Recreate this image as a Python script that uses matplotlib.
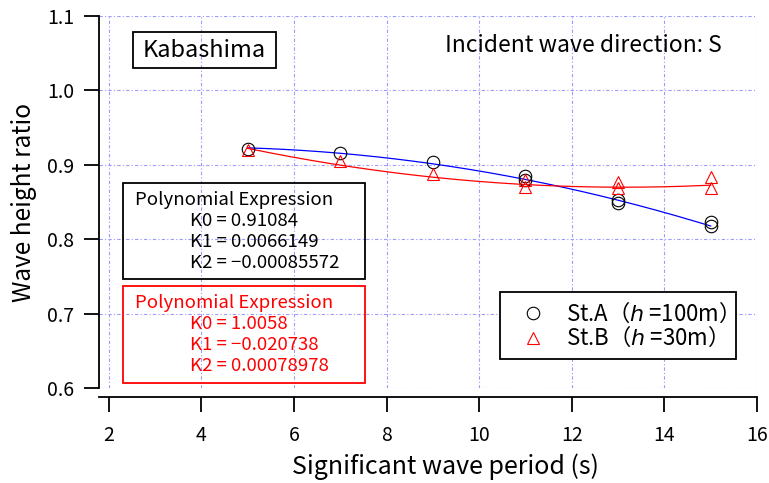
import numpy as np
import matplotlib
matplotlib.use("Agg")
from matplotlib import pyplot as plt
from matplotlib.patches import Rectangle

plt.rcParams['font.family'] = ['Noto Sans CJK JP', 'DejaVu Sans']
plt.rcParams['mathtext.fontset'] = 'dejavusans'

# measured wave height ratios
period_a = [5, 7, 9, 11, 11, 13, 13, 15, 15]
ratio_a = [0.921, 0.916, 0.904, 0.885, 0.880, 0.853, 0.848, 0.823, 0.817]
period_b = [5, 7, 9, 11, 11, 13, 13, 15, 15]
ratio_b = [0.920, 0.905, 0.887, 0.879, 0.870, 0.876, 0.868, 0.883, 0.868]

# quadratic fits  K0 + K1*T + K2*T^2
coef_a = [0.91084, 0.0066149, -0.00085572]
coef_b = [1.0058, -0.020738, 0.00078978]
coef_a_txt = ["0.91084", "0.0066149", "\u22120.00085572"]
coef_b_txt = ["1.0058", "\u22120.020738", "0.00078978"]

x_ticks = [2, 4, 6, 8, 10, 12, 14, 16]
y_ticks = [0.6, 0.7, 0.8, 0.9, 1.0, 1.1]

W, H = 769, 483


def fpos(x, y):
    # pixel position -> figure fraction
    return x / W, 1 - y / H


fig = plt.figure(figsize=(W / 100, H / 100), dpi=100)
ax = fig.add_axes([99 / W, 1 - 388 / H, 658 / W, 372.3 / H])

t_fit = np.linspace(min(period_a), max(period_a), 201)
ax.plot(t_fit, np.polyval(coef_a[::-1], t_fit), color='#0000ff', lw=0.9, zorder=3)
ax.plot(t_fit, np.polyval(coef_b[::-1], t_fit), color='#ff0000', lw=0.9, zorder=3)
ax.plot(period_a, ratio_a, 'o', ms=9, mfc='none', mec='black', mew=0.8,
        label='St.A\uff08$h$ =100m\uff09', zorder=4)
ax.plot(period_b, ratio_b, '^', ms=9, mfc='none', mec='#ff0000', mew=0.8,
        label='St.B\uff08$h$ =30m\uff09', zorder=4)

ax.set_xlim(1.79, 16)
ax.set_ylim(0.6, 1.1)
ax.set_xticks(x_ticks)
ax.set_yticks(y_ticks)
ax.set_yticklabels(['%.1f' % v for v in y_ticks])
ax.grid(True, color='#9a9aff', lw=0.8, linestyle=(0, (3, 2, 1, 2)))
ax.set_axisbelow(True)

for s in ['top', 'right']:
    ax.spines[s].set_visible(False)
ax.spines['left'].set_linewidth(1.3)
ax.spines['bottom'].set_linewidth(1.3)
ax.spines['bottom'].set_position(('outward', 6.5))
ax.tick_params(axis='both', direction='out', length=10.8, width=1.3,
               labelsize=14, color='black')
ax.tick_params(axis='x', pad=9)
ax.tick_params(axis='y', pad=7)

ax.set_xlabel('Significant wave period (s)', fontsize=18)
ax.xaxis.set_label_coords(0.527, -0.177)
fig.text(*fpos(24, 202), 'Wave height ratio', fontsize=17.5, rotation=90,
         ha='center', va='center')

# site name box
x0, y0 = fpos(133, 68)
fig.add_artist(Rectangle((x0, y0), 143 / W, 36 / H, transform=fig.transFigure,
                         fill=False, ec='black', lw=1.3))
fig.text(*fpos(204.5, 50.5), 'Kabashima', fontsize=17, ha='center', va='center')

fig.text(*fpos(583, 46), 'Incident wave direction: S', fontsize=16.5,
         ha='center', va='center')

# fit coefficient boxes
for color, top, bottom, txt in [('black', 183, 279, coef_a_txt),
                                ('#ff0000', 286, 383, coef_b_txt)]:
    bx, by = fpos(123, bottom)
    fig.add_artist(Rectangle((bx, by), 242 / W, (bottom - top) / H,
                             transform=fig.transFigure, fill=False, ec=color, lw=1.3))
    fig.text(*fpos(135, top + 17), 'Polynomial Expression', fontsize=13.4,
             color=color, ha='left', va='center')
    for i, val in enumerate(txt):
        fig.text(*fpos(190, top + 38 + 21 * i), 'K%d = %s' % (i, val),
                 fontsize=13.4, color=color, ha='left', va='center')

leg = ax.legend(loc='upper left', bbox_to_anchor=fpos(500, 292),
                bbox_transform=fig.transFigure, borderaxespad=0, fontsize=16,
                fancybox=False, edgecolor='black', framealpha=1,
                borderpad=0.4, handlelength=2.2, handletextpad=0.35, labelspacing=-0.05)
leg.get_frame().set_linewidth(1.3)

fig.savefig('out.png', dpi=100)
